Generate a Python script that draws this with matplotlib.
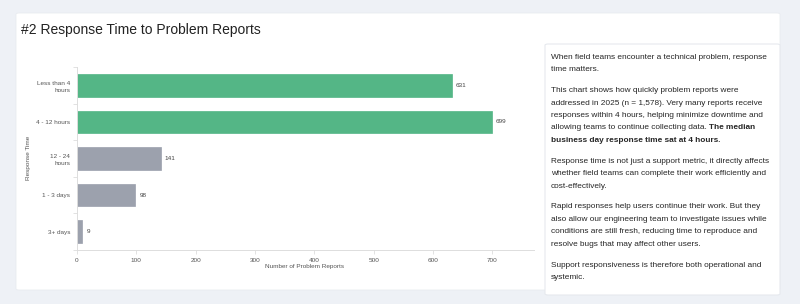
import matplotlib
matplotlib.use("Agg")
import matplotlib.pyplot as plt
from matplotlib.patches import FancyBboxPatch
from matplotlib.ticker import FixedLocator

categories = ["Less than 4\nhours", "4 - 12 hours", "12 - 24\nhours", "1 - 3 days", "3+ days"]
reports = [631, 699, 141, 98, 9]
is_fast = [True, True, False, False, False]

title = "#2 Response Time to Problem Reports"
x_label = "Number of Problem Reports"
y_label = "Response Time"
x_ticks = [0, 100, 200, 300, 400, 500, 600, 700]

# text panel, pre-wrapped like the reference; (normal, bold) pieces per line
paragraphs = [
    [("When field teams encounter a technical problem, response", ""),
     ("time matters.", "")],
    [("This chart shows how quickly problem reports were", ""),
     ("addressed in 2025 (n = 1,578). Very many reports receive", ""),
     ("responses within 4 hours, helping minimize downtime and", ""),
     ("allowing teams to continue collecting data. ", "The median"),
     ("", "business day response time sat at 4 hours.")],
    [("Response time is not just a support metric, it directly affects", ""),
     ("whether field teams can complete their work efficiently and", ""),
     ("cost-effectively.", "")],
    [("Rapid responses help users continue their work. But they", ""),
     ("also allow our engineering team to investigate issues while", ""),
     ("conditions are still fresh, reducing time to reproduce and", ""),
     ("resolve bugs that may affect other users.", "")],
    [("Support responsiveness is therefore both operational and", ""),
     ("systemic.", "")],
]

GREEN = "#54b686"
GREY = "#9ca1ad"
BG = "#eef1f6"
W, H = 800, 304

plt.rcParams["font.family"] = ["Liberation Sans", "DejaVu Sans"]

fig = plt.figure(figsize=(W / 100, H / 100), dpi=100, facecolor=BG)


def px_box(x0, y0, x1, y1, **kw):
    # rectangle in pixel coords measured from the top-left corner
    p = FancyBboxPatch((x0 / W, 1 - y1 / H), (x1 - x0) / W, (y1 - y0) / H,
                       boxstyle="round,pad=0,rounding_size=0.004",
                       transform=fig.transFigure, zorder=-5, **kw)
    fig.patches.append(p)


px_box(16, 13, 780, 290, facecolor="white", edgecolor="#e9ecf0", linewidth=0.6)
px_box(545, 44, 780, 295, facecolor="white", edgecolor="#e6e9ee", linewidth=0.8)

fig.text(21 / W, 1 - 30 / H, title, fontsize=10, color="#222222", va="center", ha="left")

ax = fig.add_axes([77 / W, 54 / H, 457 / W, 183 / H])
ax.set_facecolor("none")
pos = list(range(len(categories)))
colors = [GREEN if f else GREY for f in is_fast]
ax.barh(pos, reports, height=0.62, color=colors, edgecolor=colors, linewidth=0.5)
for p, v in zip(pos, reports):
    ax.annotate(str(v), (v, p), xytext=(3, 0), textcoords="offset points",
                va="center", ha="left", fontsize=4.6, color="#444444")

ax.set_ylim(4.5, -0.5)
ax.set_xlim(0, 770)
ax.set_yticks(pos)
ax.set_yticklabels(categories, fontsize=4.6, color="#555555", linespacing=1.55)
ax.yaxis.set_minor_locator(FixedLocator([-0.5 + i for i in range(len(categories) + 1)]))
ax.tick_params(axis="y", which="major", length=0, pad=5)
ax.tick_params(axis="y", which="minor", length=3, color="#dddddd", width=0.6)
ax.set_xticks(x_ticks)
ax.tick_params(axis="x", labelsize=4.6, labelcolor="#555555", length=3,
               color="#dddddd", width=0.6, pad=2.5)

for side in ("top", "right"):
    ax.spines[side].set_visible(False)
for side in ("left", "bottom"):
    ax.spines[side].set_color("#dddddd")
    ax.spines[side].set_linewidth(0.7)

fig.text(305 / W, 1 - 266.5 / H, x_label, fontsize=4.6, color="#555555", ha="center", va="center")
fig.text(29 / W, 1 - 158 / H, y_label, fontsize=4.6, color="#555555", ha="center",
         va="center", rotation=90)

# text panel
renderer = fig.canvas.get_renderer()
x0 = 551
y = 57.3
line_h = 12.45
para_gap = 8.4
txt_kw = dict(fontsize=5.95, color="#262626", va="center", ha="left")
for para in paragraphs:
    for normal, bold in para:
        xb = x0
        if normal:
            t = fig.text(x0 / W, 1 - y / H, normal, **txt_kw)
            bb = t.get_window_extent(renderer)
            xb = bb.x1 if bold else xb
        if bold:
            fig.text(xb / W, 1 - y / H, bold, fontweight="bold", **txt_kw)
        y += line_h
    y += para_gap

fig.savefig("out.png", dpi=100, facecolor=BG)
